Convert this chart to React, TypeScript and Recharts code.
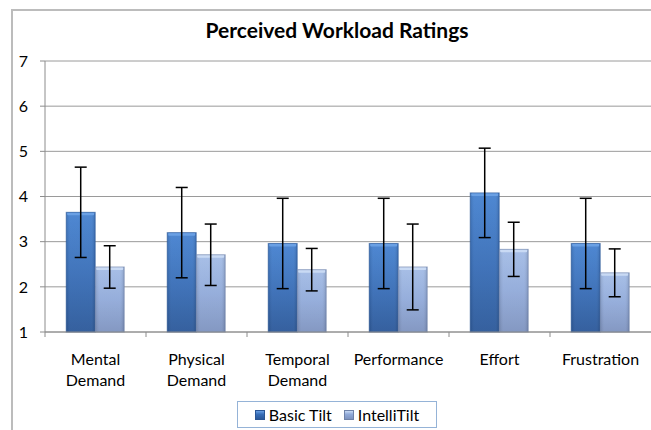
import { BarChart, Bar, XAxis, YAxis, CartesianGrid, ErrorBar, Legend } from "recharts";

const categories = ["Mental Demand", "Physical Demand", "Temporal Demand", "Performance", "Effort", "Frustration"];
const basicTilt = [3.65, 3.2, 2.96, 2.96, 4.08, 2.96];
const basicTiltErr = [1.0, 1.0, 1.0, 1.0, 0.99, 1.0];
const intelliTilt = [2.44, 2.71, 2.38, 2.44, 2.83, 2.31];
const intelliTiltErr = [0.47, 0.68, 0.47, 0.95, 0.6, 0.53];
const yTicks = [1, 2, 3, 4, 5, 6, 7];

const W = 651;
const H = 430;
const LEFT = 45;
const BAND = (W - LEFT) / categories.length;
const FONT = "Lato, 'Open Sans', sans-serif";

const data = categories.map((name, i) => ({
  name,
  basic: basicTilt[i],
  basicErr: basicTiltErr[i],
  intelli: intelliTilt[i],
  intelliErr: intelliTiltErr[i],
}));

const palette: Record<string, { top: string; mid: string; bottom: string; hi: string; edge: string }> = {
  basic: { top: "#4682d0", mid: "#386eb8", bottom: "#2b5899", hi: "#6aa0e4", edge: "#2a5594" },
  intelli: { top: "#a3bce6", mid: "#91aad9", bottom: "#7e93bf", hi: "#c9daf4", edge: "#6f82a8" },
};

function BevelBar(props: any) {
  const { x, y, width, height, id } = props;
  const c = palette[id];
  if (!c || height <= 0) return null;
  return (
    <g>
      <rect x={x} y={y} width={width} height={height} fill={`url(#grad-${id})`} />
      <rect x={x} y={y} width={width} height={height} fill={`url(#side-${id})`} />
      <rect x={x + 1} y={y} width={width - 2} height={3} fill={c.hi} rx={1} />
      <rect x={x} y={y} width={width} height={height} fill="none" stroke={c.edge} strokeOpacity={0.6} />
    </g>
  );
}

function CategoryTick(props: any) {
  const { x, y, payload } = props;
  const words = String(payload.value).split(" ");
  return (
    <g>
      <line x1={x - BAND / 2} x2={x - BAND / 2} y1={y} y2={y + 5} stroke="#8c8c8c" />
      <text x={x} y={y + 33} textAnchor="middle" fontSize={16} fill="#000" fontFamily={FONT}>
        {words.map((w, i) => (
          <tspan key={w} x={x} dy={i === 0 ? 0 : 21}>
            {w}
          </tspan>
        ))}
      </text>
    </g>
  );
}

function LegendBox(props: any) {
  const { payload } = props;
  return (
    <div
      style={{
        border: "1px solid #95b3d7",
        height: 27,
        boxSizing: "border-box",
        display: "flex",
        alignItems: "center",
        justifyContent: "center",
        gap: 12,
        fontFamily: FONT,
        fontSize: 16,
        color: "#000",
        background: "#fff",
      }}
    >
      {(payload || []).map((p: any) => (
        <span key={p.value} style={{ display: "flex", alignItems: "center", gap: 4 }}>
          <span
            style={{
              width: 10,
              height: 10,
              background: `linear-gradient(${palette[p.dataKey].hi}, ${p.color} 40%, ${palette[p.dataKey].bottom})`,
              border: `1px solid ${palette[p.dataKey].edge}`,
              boxSizing: "border-box",
            }}
          />
          {p.value}
        </span>
      ))}
    </div>
  );
}

export default function App() {
  return (
    <div
      style={{
        position: "absolute",
        left: 0,
        top: 0,
        width: W,
        height: H,
        overflow: "hidden",
        background: "#fff",
        fontFamily: FONT,
      }}
    >
      <div
        style={{
          position: "absolute",
          left: 11,
          top: 9,
          width: 720,
          height: 520,
          border: "2px solid #bcbcbc",
        }}
      />
      <div
        style={{
          position: "absolute",
          left: 0,
          top: 17,
          width: 674,
          textAlign: "center",
          fontWeight: 700,
          fontSize: 21,
          color: "#000",
        }}
      >
        Perceived Workload Ratings
      </div>
      <div style={{ position: "absolute", left: 0, top: 0 }}>
        <BarChart
          width={W}
          height={H}
          data={data}
          margin={{ top: 61, right: 0, bottom: 0, left: 0 }}
          barCategoryGap="21%"
          barGap={0}
        >
          <defs>
            {Object.keys(palette).map((k) => (
              <linearGradient key={k} id={`grad-${k}`} x1="0" y1="0" x2="0" y2="1">
                <stop offset="0%" stopColor={palette[k].top} />
                <stop offset="50%" stopColor={palette[k].mid} />
                <stop offset="100%" stopColor={palette[k].bottom} />
              </linearGradient>
            ))}
            {Object.keys(palette).map((k) => (
              <linearGradient key={k} id={`side-${k}`} x1="0" y1="0" x2="1" y2="0">
                <stop offset="0%" stopColor="#000" stopOpacity={0.12} />
                <stop offset="15%" stopColor="#fff" stopOpacity={0.05} />
                <stop offset="85%" stopColor="#fff" stopOpacity={0.05} />
                <stop offset="100%" stopColor="#000" stopOpacity={0.15} />
              </linearGradient>
            ))}
          </defs>
          <CartesianGrid vertical={false} stroke="#9a9a9a" />
          <XAxis
            dataKey="name"
            height={98}
            axisLine={{ stroke: "#8c8c8c" }}
            tickLine={false}
            tickSize={0}
            tickMargin={0}
            interval={0}
            tick={<CategoryTick />}
          />
          <YAxis
            width={LEFT}
            domain={[1, 7]}
            ticks={yTicks}
            interval={0}
            axisLine={{ stroke: "#8c8c8c" }}
            tickLine={{ stroke: "#8c8c8c" }}
            tickSize={5}
            tickMargin={12}
            tick={{ fontSize: 16, fill: "#000", fontFamily: FONT }}
          />
          <Legend
            layout="horizontal"
            verticalAlign="middle"
            align="center"
            wrapperStyle={{ left: 237, top: 401, width: 200 }}
            content={<LegendBox />}
          />
          <Bar dataKey="basic" name="Basic Tilt" fill="#386eb8" isAnimationActive={false} shape={(p: any) => <BevelBar {...p} id="basic" />}>
            <ErrorBar dataKey="basicErr" width={6} stroke="#000" strokeWidth={1.5} />
          </Bar>
          <Bar dataKey="intelli" name="IntelliTilt" fill="#91aad9" isAnimationActive={false} shape={(p: any) => <BevelBar {...p} id="intelli" />}>
            <ErrorBar dataKey="intelliErr" width={6} stroke="#000" strokeWidth={1.5} />
          </Bar>
        </BarChart>
      </div>
    </div>
  );
}
